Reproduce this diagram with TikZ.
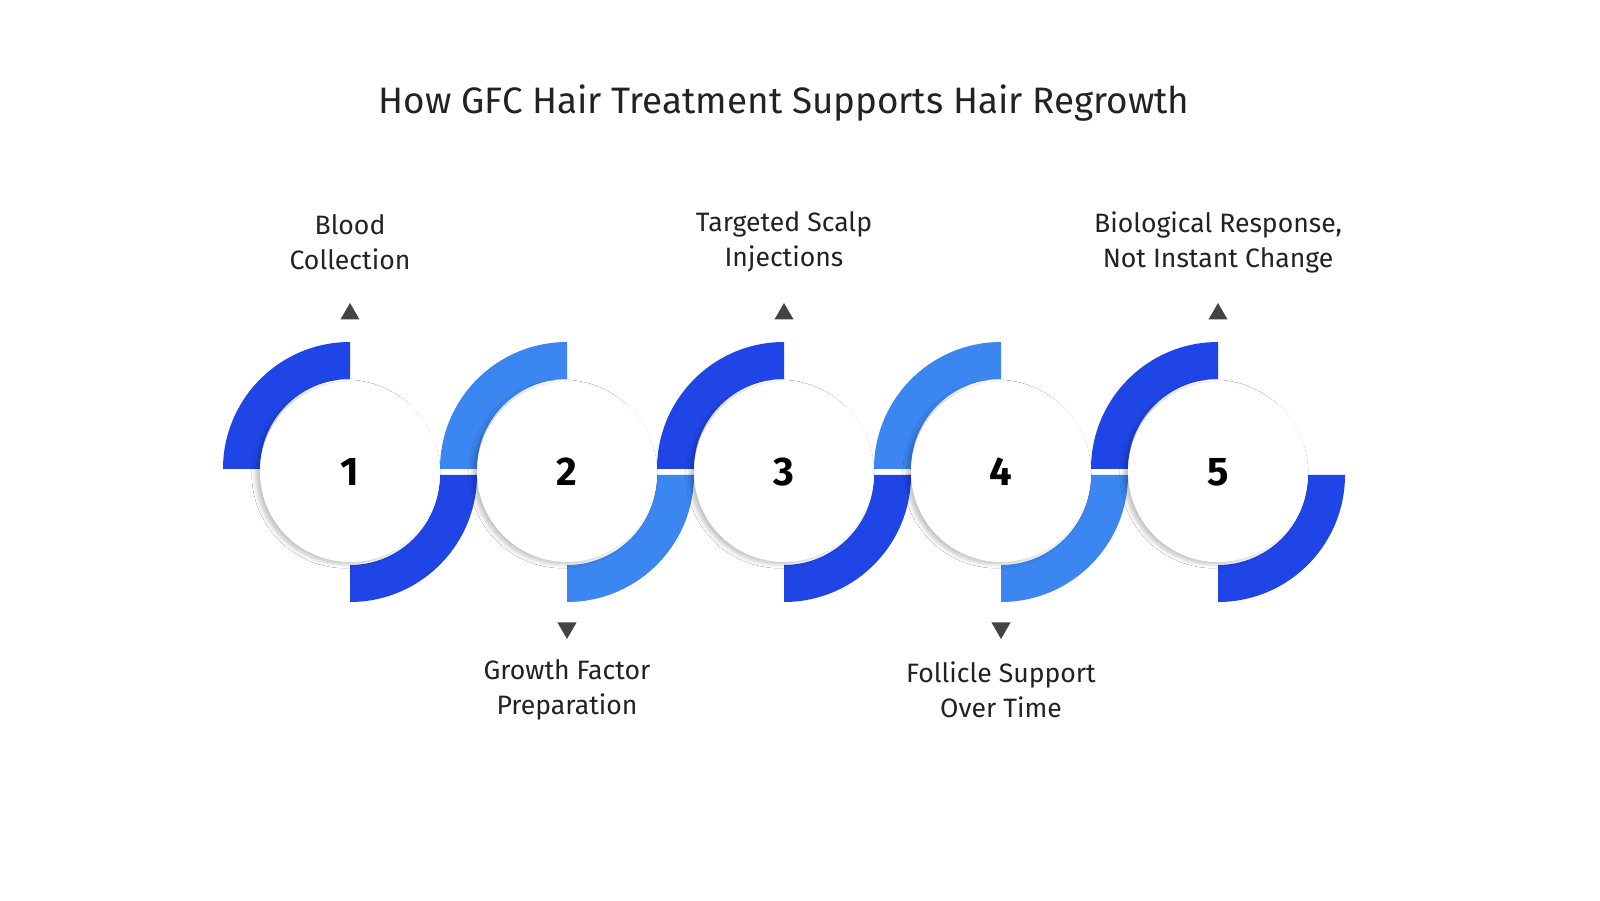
\documentclass[tikz,border=0pt]{standalone}
\usepackage{fontspec}
\setmainfont{Fira Sans}
\usetikzlibrary{shapes.geometric,shadows.blur}
\definecolor{dk}{HTML}{1F45E6}
\definecolor{lt}{HTML}{3B86F0}
\definecolor{tx}{HTML}{222222}
\begin{document}
\begin{tikzpicture}[x=0.5pt,y=0.5pt,
  disc/.style={circle,fill=white,minimum size=90pt,inner sep=0pt,text=black,font=\fontsize{20}{24}\selectfont\bfseries,
     blur shadow={shadow xshift=-2pt,shadow yshift=-1pt,shadow blur steps=6,shadow opacity=25}},
  lab/.style={align=center,text=tx,font=\fontsize{13.3}{17.5}\selectfont},
  tri/.style={regular polygon,regular polygon sides=3,fill=tx!85,inner sep=0pt,minimum size=11pt},
  band/.style={fill=#1}]
\useasboundingbox[fill=white] (0,0) rectangle (1600,900);
\node[text=tx,font=\fontsize{18.4}{22}\selectfont] (title) at (784,797) {How GFC Hair Treatment Supports Hair Regrowth};
\foreach \i/\cx/\c in {1/350/dk,2/567/lt,3/784/dk,4/1001/lt,5/1218/dk}{
  \fill[\c] (\cx-127,431) arc[start angle=180,end angle=90,radius=127] -- (\cx,431+90) arc[start angle=90,end angle=180,radius=90] -- cycle;
  \fill[\c] (\cx+127,425) arc[start angle=0,end angle=-90,radius=127] -- (\cx,425-90) arc[start angle=-90,end angle=0,radius=90] -- cycle;
  \node[disc] (c\i) at (\cx,428) {\i};
}
\node[tri] (t1) at (350,586) {};
\node[tri] (t3) at (784,586) {};
\node[tri] (t5) at (1218,586) {};
\node[tri,rotate=180] (t2) at (567,272) {};
\node[tri,rotate=180] (t4) at (1001,272) {};
\node[lab] (l1) at (350,658) {Blood\\Collection};
\node[lab] (l3) at (784,658) {Targeted Scalp\\Injections};
\node[lab] (l5) at (1218,658) {Biological Response,\\Not Instant Change};
\node[lab] (l2) at (567,210) {Growth Factor\\Preparation};
\node[lab] (l4) at (1001,210) {Follicle Support\\Over Time};
\end{tikzpicture}
\end{document}
